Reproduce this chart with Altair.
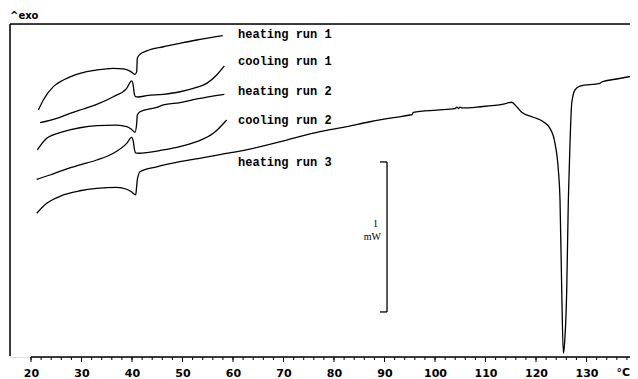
import altair as alt
import pandas as pd

# ---- DSC curves: temperature (°C) and heat flow (mW, arbitrary offset) ----
h1_t = [21.45, 22.44, 24.42, 26.40, 29.70, 33.01, 36.30, 38.28, 39.60, 40.59, 40.93, 41.05, 41.58, 42.91, 46.20, 49.50, 52.81, 57.96]
h1_q = [1.653, 1.720, 1.809, 1.853, 1.898, 1.920, 1.931, 1.927, 1.913, 1.891, 1.909, 1.998, 2.025, 2.047, 2.075, 2.098, 2.120, 2.149]

c1_t = [21.78, 25.09, 27.72, 30.36, 33.01, 36.30, 38.95, 39.94, 40.20, 40.40, 40.69, 41.19, 42.91, 46.20, 49.50, 52.14, 54.79, 56.77, 58.28]
c1_q = [1.569, 1.598, 1.631, 1.660, 1.691, 1.742, 1.798, 1.847, 1.827, 1.773, 1.743, 1.740, 1.749, 1.758, 1.775, 1.798, 1.831, 1.887, 1.947]

h2_t = [21.25, 23.11, 26.40, 29.70, 33.01, 36.97, 38.95, 39.80, 40.59, 40.93, 41.05, 41.58, 44.89, 46.20, 49.50, 52.81, 58.28]
h2_q = [1.387, 1.465, 1.509, 1.535, 1.549, 1.553, 1.542, 1.527, 1.505, 1.565, 1.620, 1.642, 1.671, 1.687, 1.703, 1.727, 1.758]

c2_t = [21.13, 23.76, 26.40, 29.70, 33.01, 36.30, 38.95, 39.94, 40.26, 40.50, 40.69, 41.25, 46.20, 49.50, 52.81, 56.10, 58.75]
c2_q = [1.191, 1.220, 1.253, 1.287, 1.320, 1.365, 1.431, 1.471, 1.442, 1.387, 1.367, 1.365, 1.387, 1.409, 1.442, 1.498, 1.587]

h3_t = [21.13, 23.11, 26.40, 29.70, 33.01, 36.97, 38.95, 39.80, 40.73, 40.89, 41.05, 41.58, 44.89, 49.50,
        54.12, 57.43, 64.02, 70.63, 77.23, 82.51, 87.13, 91.74, 95.05, 95.45, 95.70, 100.34, 103.96, 104.36,
        104.61, 104.95, 105.35, 108.91, 113.52, 115.19, 116.18, 117.17, 119.47, 121.45, 122.77, 123.76,
        124.42, 124.75, 125.09, 125.41, 125.60, 126.08, 126.40, 126.73, 127.07, 127.72, 128.71, 132.67,
        133.01, 135.98, 140.20]
h3_q = [0.965, 1.031, 1.087, 1.115, 1.131, 1.138, 1.125, 1.110, 1.087, 1.133, 1.187, 1.242, 1.275, 1.309,
        1.336, 1.356, 1.398, 1.453, 1.509, 1.542, 1.575, 1.602, 1.620, 1.623, 1.638, 1.653, 1.663, 1.673,
        1.663, 1.673, 1.667, 1.675, 1.693, 1.705, 1.675, 1.638, 1.605, 1.575, 1.531, 1.431,
        1.253, 1.053, 0.453, 0.031, 0.075, 0.453, 1.053, 1.431, 1.698, 1.787, 1.813, 1.831,
        1.840, 1.860, 1.887]

run_names = ["heating run 1", "cooling run 1", "heating run 2", "cooling run 2", "heating run 3"]
run_series = [(h1_t, h1_q), (c1_t, c1_q), (h2_t, h2_q), (c2_t, c2_q), (h3_t, h3_q)]

# labels of the runs
label_t = [61.0, 61.0, 61.0, 61.0, 61.0]
label_q = [2.163, 1.980, 1.780, 1.587, 1.307]

# x-axis ticks / labels
tick_labels = [20, 30, 40, 50, 60, 70, 80, 90, 100, 110, 120, 130]
minor_ticks = list(range(20, 139, 2))

# 1 mW scale bar
bar_t = 90.5
bar_t_left = 89.1
bar_top = 1.307
bar_bottom = 0.307

X_DOMAIN = [15.84, 138.61]
Y_DOMAIN = [0.0067, 2.2267]
W, H = 620, 333

rows = []
for name, (ts, qs) in zip(run_names, run_series):
    for t, q in zip(ts, qs):
        rows.append({"run": name, "T": t, "Q": q})
df = pd.DataFrame(rows)

xs = alt.Scale(domain=X_DOMAIN, nice=False, zero=False)
ys = alt.Scale(domain=Y_DOMAIN, nice=False, zero=False)

lines = alt.Chart(df).mark_line(
    color="black", strokeWidth=1.3, interpolate="monotone", clip=True
).encode(
    x=alt.X("T:Q", scale=xs, axis=alt.Axis(
        values=tick_labels, domain=False, ticks=False, grid=False,
        labelFont="DejaVu Sans", labelFontWeight="bold", labelFontSize=11,
        labelColor="black", labelPadding=19, labelBaseline="alphabetic",
        labelFlush=False, title=None)),
    y=alt.Y("Q:Q", scale=ys, axis=None),
    detail="run:N",
)

lab_df = pd.DataFrame({"label": run_names, "T": label_t, "Q": label_q})
labels = alt.Chart(lab_df).mark_text(
    align="left", baseline="middle", font="Liberation Mono", fontWeight="bold",
    fontSize=12, color="black"
).encode(x=alt.X("T:Q", scale=xs), y=alt.Y("Q:Q", scale=ys), text="label:N")

ticks_df = pd.DataFrame({"T": minor_ticks})
minor = alt.Chart(ticks_df).mark_rule(color="black", strokeWidth=1).encode(
    x=alt.X("T:Q", scale=xs), y=alt.value(H), y2=alt.value(H + 3))
major = alt.Chart(pd.DataFrame({"T": tick_labels})).mark_rule(color="black", strokeWidth=1).encode(
    x=alt.X("T:Q", scale=xs), y=alt.value(H), y2=alt.value(H + 5))
axis_line = alt.Chart(pd.DataFrame({"a": [20], "b": [X_DOMAIN[1]]})).mark_rule(
    color="black", strokeWidth=1.5).encode(
    x=alt.X("a:Q", scale=xs), x2="b:Q", y=alt.value(H))

unit = alt.Chart(pd.DataFrame({"t": [X_DOMAIN[1]], "s": ["°C"]})).mark_text(
    align="right", baseline="alphabetic", font="DejaVu Sans", fontWeight="bold",
    fontSize=11, color="black").encode(
    x=alt.X("t:Q", scale=xs), y=alt.value(H + 19), text="s:N")

frame_top = alt.Chart(pd.DataFrame({"k": [0]})).mark_rule(color="black", strokeWidth=1.5).encode(
    x=alt.value(0), x2=alt.value(W), y=alt.value(0))
frame_left = alt.Chart(pd.DataFrame({"k": [0]})).mark_rule(color="black", strokeWidth=1.5).encode(
    x=alt.value(0), y=alt.value(0), y2=alt.value(H - 1))

exo = alt.Chart(pd.DataFrame({"s": ["^exo"]})).mark_text(
    align="left", baseline="alphabetic", font="DejaVu Sans", fontWeight="bold",
    fontSize=10, color="black").encode(x=alt.value(0), y=alt.value(-5), text="s:N")

bar_df = pd.DataFrame({"t": [bar_t], "tl": [bar_t_left], "top": [bar_top], "bot": [bar_bottom]})
bar_v = alt.Chart(bar_df).mark_rule(color="black", strokeWidth=1.3).encode(
    x=alt.X("t:Q", scale=xs), y=alt.Y("top:Q", scale=ys), y2="bot:Q")
bar_h1 = alt.Chart(bar_df).mark_rule(color="black", strokeWidth=1.3).encode(
    x=alt.X("tl:Q", scale=xs), x2="t:Q", y=alt.Y("top:Q", scale=ys))
bar_h2 = alt.Chart(bar_df).mark_rule(color="black", strokeWidth=1.3).encode(
    x=alt.X("tl:Q", scale=xs), x2="t:Q", y=alt.Y("bot:Q", scale=ys))

unit_txt = alt.Chart(pd.DataFrame({"t": [88.2, 87.6], "q": [0.893, 0.807], "s": ["1", "mW"]})).mark_text(
    align="center", baseline="middle", font="Liberation Serif", fontSize=10, color="black").encode(
    x=alt.X("t:Q", scale=xs), y=alt.Y("q:Q", scale=ys), text="s:N")

chart = alt.layer(
    frame_top, frame_left, axis_line, minor, major, lines, labels, unit, exo,
    bar_v, bar_h1, bar_h2, unit_txt
).properties(
    width=W, height=H,
    autosize=alt.AutoSizeParams(type="none"),
    padding={"left": 2, "top": 16, "right": 0, "bottom": 22},
).configure_view(stroke=None).configure(background="white")

chart.save("out.html", embed_options={"renderer": "svg", "actions": False})
